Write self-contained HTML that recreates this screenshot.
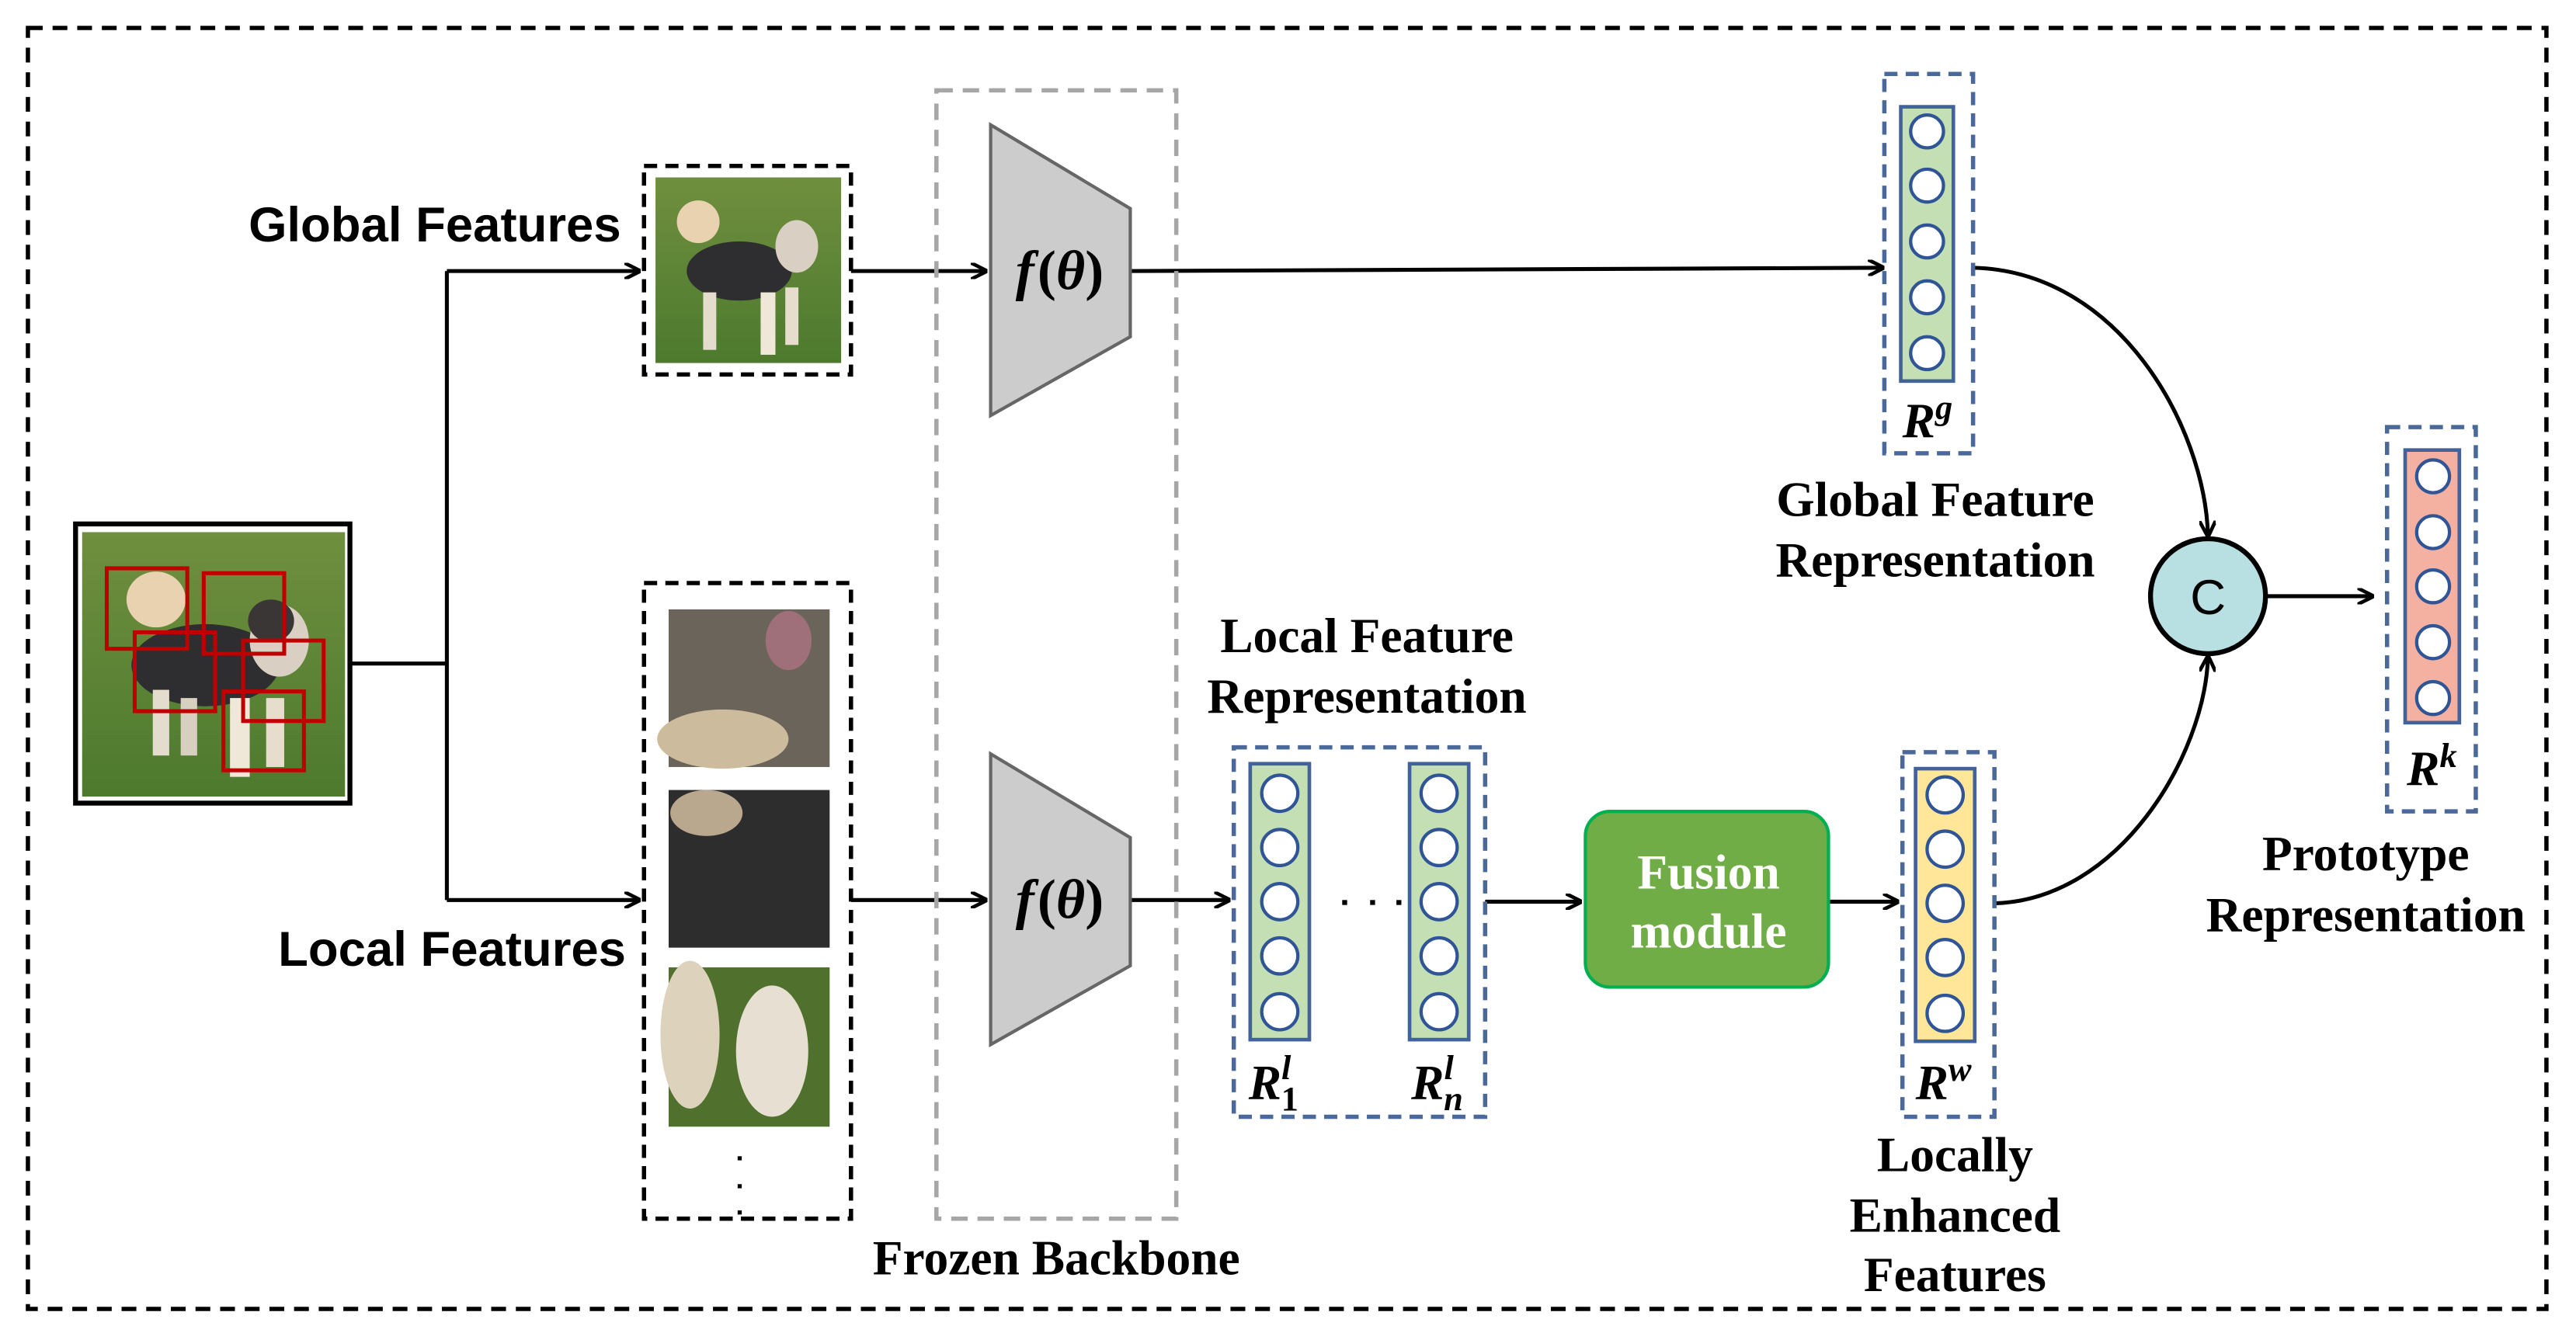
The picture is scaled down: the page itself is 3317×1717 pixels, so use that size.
<!DOCTYPE html>
<html><head><meta charset="utf-8"><style>html,body{margin:0;padding:0;background:#fff}svg{display:block}</style></head>
<body>
<svg width="3317" height="1717" viewBox="0 0 1568 811.6" xmlns="http://www.w3.org/2000/svg">
<defs>
<marker id="a" markerWidth="10" markerHeight="10" refX="9" refY="5" orient="auto" markerUnits="userSpaceOnUse"><path d="M0,0 L10,5 L0,10" fill="none" stroke="#000" stroke-width="2.2"/></marker>
<linearGradient id="grass" x1="0" y1="0" x2="0" y2="1"><stop offset="0" stop-color="#6f8f3e"/><stop offset="1" stop-color="#4d7a2e"/></linearGradient>
</defs>
<rect x="17" y="17" width="1533" height="780" fill="none" stroke="#000" stroke-width="2.6" stroke-dasharray="9,6"/>

<rect x="46" y="319" width="167" height="170" fill="#fff" stroke="#000" stroke-width="3"/>
<rect x="50" y="324" width="160" height="161" fill="url(#grass)"/>
<g>
<ellipse cx="95" cy="365" rx="18" ry="17" fill="#e8d2b0"/>
<ellipse cx="125" cy="405" rx="45" ry="25" fill="#2e2e30"/>
<ellipse cx="170" cy="390" rx="18" ry="22" fill="#d9cfc2"/>
<ellipse cx="165" cy="378" rx="14" ry="13" fill="#3a3636"/>
<rect x="93" y="420" width="10" height="40" fill="#e4dccd"/><rect x="110" y="425" width="10" height="35" fill="#d7cfc0"/>
<rect x="140" y="425" width="12" height="48" fill="#efe7d8"/><rect x="162" y="425" width="11" height="42" fill="#e6ddcc"/>
</g>
<g fill="none" stroke="#c00000" stroke-width="2.4">
<rect x="65" y="346" width="49" height="49"/><rect x="124" y="349" width="49" height="49"/>
<rect x="82" y="385" width="49" height="48"/><rect x="148" y="390" width="49" height="49"/>
<rect x="136" y="421" width="49" height="48"/>
</g>

<g stroke="#000" stroke-width="2.4" fill="none">
<path d="M213,404 H272"/>
<path d="M272,165 V548"/>
<path d="M272,165 H389" marker-end="url(#a)"/>
<path d="M272,548 H389" marker-end="url(#a)"/>
<path d="M518,165 H600" marker-end="url(#a)"/>
<path d="M518,548 H600" marker-end="url(#a)"/>
<path d="M688,165 L1146,163" marker-end="url(#a)"/>
<path d="M688,548 H748" marker-end="url(#a)"/>
<path d="M904,549 H962" marker-end="url(#a)"/>
<path d="M1113,549 H1155" marker-end="url(#a)"/>
<path d="M1380,363 H1444" marker-end="url(#a)"/>
<path d="M1201,163 C1290,165 1342,260 1344,326" marker-end="url(#a)"/>
<path d="M1214,550 C1290,548 1342,460 1344,400" marker-end="url(#a)"/>
</g>

<rect x="392" y="101" width="126" height="127" fill="none" stroke="#000" stroke-width="2.6" stroke-dasharray="8,5"/>
<rect x="399" y="108" width="113" height="113" fill="url(#grass)"/>
<ellipse cx="425" cy="135" rx="13" ry="13" fill="#e8d2b0"/>
<ellipse cx="450" cy="165" rx="32" ry="18" fill="#2e2e30"/>
<ellipse cx="485" cy="150" rx="13" ry="16" fill="#d9cfc2"/>
<rect x="428" y="178" width="8" height="35" fill="#e4dccd"/><rect x="463" y="178" width="9" height="38" fill="#efe7d8"/><rect x="478" y="175" width="8" height="35" fill="#e6ddcc"/>

<rect x="392" y="355" width="126" height="387" fill="none" stroke="#000" stroke-width="2.6" stroke-dasharray="8,5"/>
<rect x="407" y="371" width="98" height="96" fill="#6b645a"/>
<ellipse cx="480" cy="390" rx="14" ry="18" fill="#a0707a"/>
<ellipse cx="440" cy="450" rx="40" ry="18" fill="#cdbb9e"/>
<rect x="407" y="481" width="98" height="96" fill="#2e2d2e"/>
<ellipse cx="430" cy="495" rx="22" ry="14" fill="#b9a88d"/>
<rect x="407" y="589" width="98" height="97" fill="#50702e"/>
<ellipse cx="420" cy="630" rx="18" ry="45" fill="#ddd2bc"/>
<ellipse cx="470" cy="640" rx="22" ry="40" fill="#e6dfd2"/>
<g fill="#000"><rect x="449" y="704" width="2.5" height="2.5"/><rect x="449" y="721" width="2.5" height="2.5"/><rect x="449" y="737" width="2.5" height="2.5"/></g>

<rect x="570" y="55" width="146" height="687" fill="none" stroke="#a6a6a6" stroke-width="2.6" stroke-dasharray="10,6"/>
<polygon points="603,76 688,127 688,205 603,253" fill="#cccccc" stroke="#666" stroke-width="2"/>
<polygon points="603,459 688,510 688,588 603,636" fill="#cccccc" stroke="#666" stroke-width="2"/>
<g font-family="Liberation Serif, serif" font-weight="bold" font-style="italic" font-size="34" text-anchor="middle">
<text x="645" y="176">f<tspan font-style="normal" dx="2">(</tspan>θ<tspan font-style="normal">)</tspan></text>
<text x="645" y="559">f<tspan font-style="normal" dx="2">(</tspan>θ<tspan font-style="normal">)</tspan></text>
</g>

<g stroke="#4a6899" stroke-width="2.6" fill="none" stroke-dasharray="8,5">
<rect x="1147" y="45" width="54" height="231"/>
<rect x="751" y="455" width="153" height="225"/>
<rect x="1158" y="458" width="56" height="222"/>
<rect x="1453" y="260" width="54" height="234"/>
</g>
<g stroke="#41629a" stroke-width="2.2">
<rect x="1157" y="65" width="32" height="167" fill="#c5dfb5"/>
<rect x="761" y="465" width="36" height="168" fill="#c5dfb5"/>
<rect x="858" y="465" width="36" height="168" fill="#c5dfb5"/>
<rect x="1166" y="468" width="36" height="166" fill="#ffe699"/>
<rect x="1464" y="274" width="33" height="166" fill="#f4b0a0"/>
</g>
<g stroke="#2f5597" stroke-width="2" fill="#fff">
<circle cx="1173" cy="80" r="10"/><circle cx="1173" cy="113" r="10"/><circle cx="1173" cy="147" r="10"/><circle cx="1173" cy="181" r="10"/><circle cx="1173" cy="215" r="10"/>
<circle cx="779" cy="483" r="11"/><circle cx="779" cy="516" r="11"/><circle cx="779" cy="549" r="11"/><circle cx="779" cy="582" r="11"/><circle cx="779" cy="616" r="11"/>
<circle cx="876" cy="483" r="11"/><circle cx="876" cy="516" r="11"/><circle cx="876" cy="549" r="11"/><circle cx="876" cy="582" r="11"/><circle cx="876" cy="616" r="11"/>
<circle cx="1184" cy="484" r="11"/><circle cx="1184" cy="517" r="11"/><circle cx="1184" cy="550" r="11"/><circle cx="1184" cy="583" r="11"/><circle cx="1184" cy="617" r="11"/>
<circle cx="1481" cy="290" r="10"/><circle cx="1481" cy="324" r="10"/><circle cx="1481" cy="357" r="10"/><circle cx="1481" cy="391" r="10"/><circle cx="1481" cy="425" r="10"/>
</g>
<g fill="#000"><rect x="817" y="548" width="3" height="3"/><rect x="834" y="548" width="3" height="3"/><rect x="850" y="548" width="3" height="3"/></g>

<rect x="965" y="494" width="148" height="107" rx="15" fill="#70ad47" stroke="#00b050" stroke-width="2"/>
<g font-family="Liberation Serif, serif" font-weight="bold" font-size="30" fill="#fff" text-anchor="middle">
<text x="1040" y="541">Fusion</text><text x="1040" y="577">module</text></g>

<circle cx="1344" cy="363" r="35" fill="#b8dfe2" stroke="#000" stroke-width="3"/>
<text x="1344" y="374" font-family="Liberation Sans, sans-serif" font-size="30" text-anchor="middle">C</text>

<g font-family="Liberation Serif, serif" font-weight="bold" font-style="italic" font-size="30">
<text x="1158" y="266">R<tspan font-size="21" dy="-11">g</tspan></text>
<text x="760" y="669">R<tspan font-size="21" dy="-12">l</tspan><tspan font-size="21" font-style="normal" dx="-6" dy="19">1</tspan></text>
<text x="859" y="669">R<tspan font-size="21" dy="-12">l</tspan><tspan font-size="21" dx="-6" dy="19">n</tspan></text>
<text x="1166" y="669">R<tspan font-size="21" dy="-11">w</tspan></text>
<text x="1465" y="478">R<tspan font-size="21" dy="-11">k</tspan></text>
</g>

<g font-family="Liberation Sans, sans-serif" font-weight="bold" font-size="30" text-anchor="end">
<text x="378" y="147">Global Features</text>
<text x="381" y="588">Local Features</text>
</g>
<g font-family="Liberation Serif, serif" font-weight="bold" font-size="30" text-anchor="middle">
<text x="643" y="776">Frozen Backbone</text>
<text x="1178" y="314">Global Feature</text><text x="1178" y="351">Representation</text>
<text x="832" y="397">Local Feature</text><text x="832" y="434">Representation</text>
<text x="1190" y="713">Locally</text><text x="1190" y="750">Enhanced</text><text x="1190" y="786">Features</text>
<text x="1440" y="530">Prototype</text><text x="1440" y="567">Representation</text>
</g>
</svg>
</body></html>
